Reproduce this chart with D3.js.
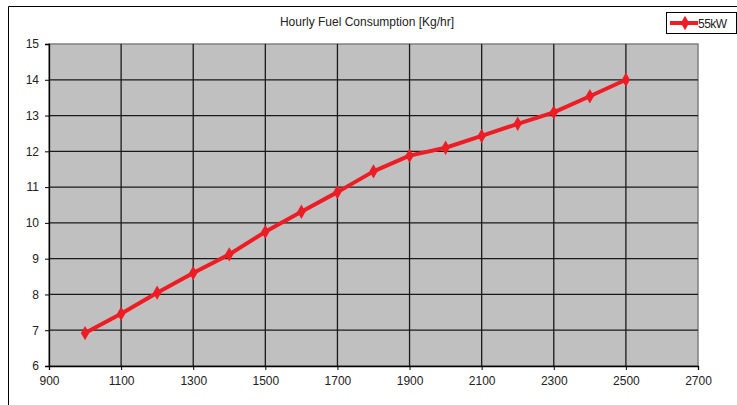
<!DOCTYPE html>
<html>
<head>
<meta charset="utf-8">
<script src="https://cdn.jsdelivr.net/npm/d3@7"></script>
<style>
  html, body { margin: 0; padding: 0; background: #fff; }
  svg { display: block; font-family: "Liberation Sans", Arial, sans-serif; }
</style>
</head>
<body>
<svg id="chart" width="737" height="405"></svg>
<script>
// Engine speed (rpm) and hourly fuel consumption (kg/hr) for the 55kW unit
const rpm = [1000, 1100, 1200, 1300, 1400, 1500, 1600, 1700, 1800, 1900, 2000, 2100, 2200, 2300, 2400, 2500];
const fuel55kW = [6.92, 7.46, 8.05, 8.6, 9.12, 9.75, 10.31, 10.86, 11.44, 11.88, 12.1, 12.43, 12.77, 13.09, 13.54, 14.0];
const xTicks = [900, 1100, 1300, 1500, 1700, 1900, 2100, 2300, 2500, 2700];
const yTicks = [6, 7, 8, 9, 10, 11, 12, 13, 14, 15];
const seriesName = "55kW";
const title = "Hourly Fuel Consumption [Kg/hr]";

const svg = d3.select("#chart");
const plot = { left: 49, top: 44, right: 698, bottom: 366 };

const x = d3.scaleLinear().domain([900, 2700]).range([plot.left, plot.right]);
const y = d3.scaleLinear().domain([6, 15]).range([plot.bottom, plot.top]);

// chart area frame
svg.append("path")
  .attr("d", `M8.5,410 V6.5 H745`)
  .attr("fill", "none").attr("stroke", "#000").attr("stroke-width", 1);

// plot background
svg.append("rect")
  .attr("x", plot.left).attr("y", plot.top)
  .attr("width", plot.right - plot.left).attr("height", plot.bottom - plot.top)
  .attr("fill", "#c0c0c0").attr("stroke", "#808080").attr("stroke-width", 1.5);

// grid lines
const grid = svg.append("g").attr("stroke", "#1a1a1a").attr("stroke-width", 1.3);
grid.selectAll("line.h").data(yTicks.slice(1, -1)).join("line")
  .attr("x1", plot.left).attr("x2", plot.right)
  .attr("y1", d => y(d)).attr("y2", d => y(d));
grid.selectAll("line.v").data(xTicks.slice(1, -1)).join("line")
  .attr("y1", plot.top).attr("y2", plot.bottom)
  .attr("x1", d => x(d)).attr("x2", d => x(d));

// axes
const yAxis = svg.append("g")
  .attr("transform", `translate(${plot.left},0)`)
  .call(d3.axisLeft(y).tickValues(yTicks).tickSize(4).tickPadding(6).tickFormat(d3.format("d")));
const xAxis = svg.append("g")
  .attr("transform", `translate(0,${plot.bottom})`)
  .call(d3.axisBottom(x).tickValues(xTicks).tickSize(4).tickPadding(6).tickFormat(d3.format("d")));
[yAxis, xAxis].forEach(a => {
  a.select(".domain").attr("stroke", "#000").attr("stroke-width", 1.3);
  a.selectAll(".tick line").attr("stroke", "#000");
  a.selectAll("text").attr("font-size", 12).attr("fill", "#222")
    .attr("font-family", "Liberation Sans, Arial, sans-serif");
});

// series line and markers
const pts = rpm.map((r, i) => [r, fuel55kW[i]]);
svg.append("path")
  .datum(pts)
  .attr("fill", "none").attr("stroke", "#ee1c24").attr("stroke-width", 4)
  .attr("stroke-linejoin", "round")
  .attr("d", d3.line().x(d => x(d[0])).y(d => y(d[1])));

const diamond = d3.symbol().type(d3.symbolDiamond).size(60);
svg.append("g").selectAll("path").data(pts).join("path")
  .attr("transform", d => `translate(${x(d[0])},${y(d[1])})`)
  .attr("d", diamond).attr("fill", "#ee1c24");

// title
svg.append("text")
  .attr("x", 367).attr("y", 26).attr("text-anchor", "middle")
  .attr("font-size", 12).attr("fill", "#222").text(title);

// legend
const lg = svg.append("g");
lg.append("rect").attr("x", 666.5).attr("y", 12.5).attr("width", 70).attr("height", 21)
  .attr("fill", "#fff").attr("stroke", "#000");
lg.append("line").attr("x1", 670).attr("x2", 698).attr("y1", 23).attr("y2", 23)
  .attr("stroke", "#ee1c24").attr("stroke-width", 4);
lg.append("path").attr("transform", "translate(685,23)").attr("d", diamond).attr("fill", "#ee1c24");
lg.append("text").attr("x", 698).attr("y", 27.5).attr("font-size", 12).attr("fill", "#222")
  .attr("letter-spacing", -0.5).text(seriesName);
</script>
</body>
</html>
